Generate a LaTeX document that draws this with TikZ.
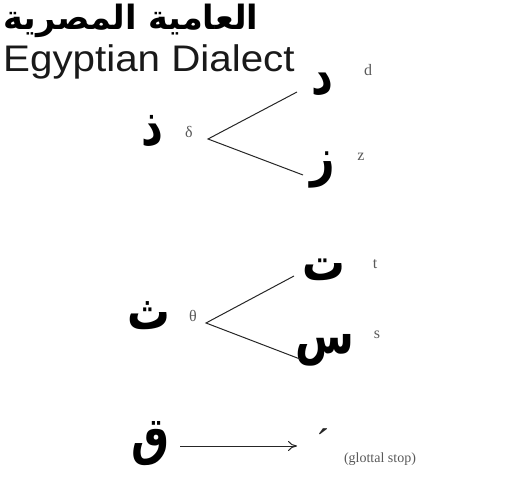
\documentclass[tikz,border=0pt]{standalone}
\usepackage{fontspec}
\setmainfont{Liberation Serif}
\newfontfamily\arabicbold[Script=Arabic]{DejaVu Sans Bold}
\newfontfamily\titlesans{Liberation Sans}
\TeXXeTstate=1
\usetikzlibrary{arrows.meta}
\begin{document}
\begin{tikzpicture}[x=1pt,y=-1pt,
  arab/.style={inner sep=0pt,xscale=0.82,font=\arabicbold\fontsize{52}{58}\selectfont},
  phon/.style={inner sep=0pt,text=black!65,font=\fontsize{16}{18}\selectfont},
  branch/.style={draw=black!85,line width=1pt},
  arrowline/.style={draw=black!85,line width=1pt,-{To[length=9pt,width=10pt]}}]
\useasboundingbox (0,0) rectangle (530,481);
% titles
\node[inner sep=0pt,font=\arabicbold\fontsize{33.5}{38}\selectfont] (titlear) at (131,21) {\beginR العامية المصرية\endR};
\node[inner sep=0pt,anchor=base west,xscale=1.09,font=\titlesans\fontsize{37}{44}\selectfont,text=black!90] (titleen) at (3,72) {Egyptian Dialect};
% group 1
\node[arab] (dhal) at (152,131) {\beginR ذ\endR};
\node[phon] (delta) at (189,132) {δ};
\coordinate (v1) at (208,139);
\coordinate (d1) at (297,92);
\coordinate (z1) at (303,175);
\node[arab] (dal) at (322,84) {\beginR د\endR};
\node[arab] (zay) at (323,170) {\beginR ز\endR};
\node[phon] (dlat) at (368,70) {d};
\node[phon] (zlat) at (361,157) {z};
\draw[branch] (d1) -- (v1) -- (z1);
% group 2
\node[arab] (tha) at (149,316) {\beginR ث\endR};
\node[phon] (theta) at (193,316) {θ};
\coordinate (v2) at (206,323);
\coordinate (t2) at (294,276);
\coordinate (s2) at (300,359);
\node[arab] (ta) at (324,270) {\beginR ت\endR};
\node[arab] (sin) at (325,350) {\beginR س\endR};
\node[phon] (tlat) at (375,264) {t};
\node[phon] (slat) at (377,335) {s};
\draw[branch] (t2) -- (v2) -- (s2);
% group 3
\node[arab] (qaf) at (151,444) {\beginR ق\endR};
\coordinate (a0) at (180,446);
\coordinate (a3) at (297,446);
\draw[arrowline] (a0) -- (a3);
\node[inner sep=0pt,text=black!85,font=\fontsize{40}{44}\selectfont] (glot) at (323,443) {´};
\node[phon,font=\fontsize{14}{16}\selectfont] (glotlab) at (380,459) {(glottal stop)};
\end{tikzpicture}
\end{document}
